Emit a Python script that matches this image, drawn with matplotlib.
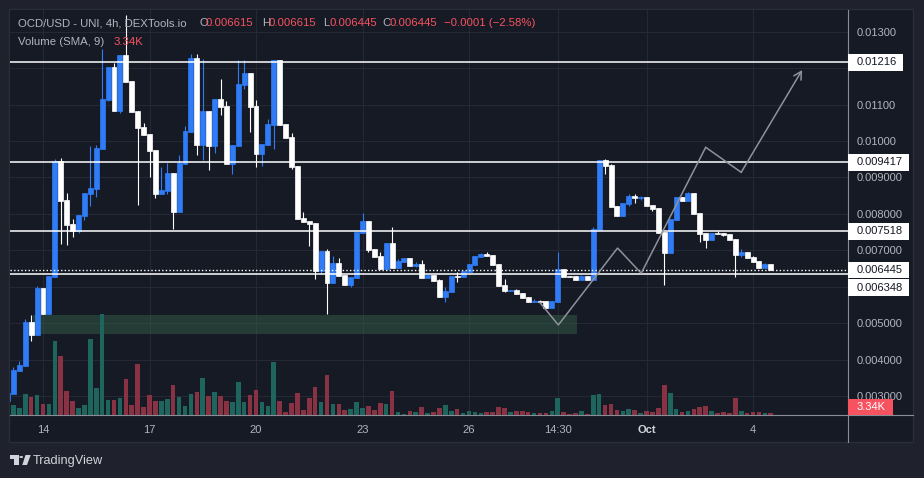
import numpy as np
import matplotlib
matplotlib.use('Agg')
import matplotlib.pyplot as plt
from matplotlib.patches import Rectangle, Polygon, Circle
from matplotlib.lines import Line2D

plt.rcParams['font.family'] = ['Liberation Sans', 'DejaVu Sans']

W, H = 924, 478

# ---------------- data (4h candles, index 0 = Sep 14 00:00) ----------------
start_index = -6
opens = [0.002863, 0.003055, 0.003686, 0.003823, 0.005039, 0.004674,
         0.005964, 0.005251, 0.006266, 0.009460, 0.008380, 0.007721, 0.007529, 0.007941, 0.008545, 0.008682,
         0.009780, 0.011125, 0.012031, 0.010823, 0.012360, 0.011647, 0.010823, 0.010384, 0.010192, 0.009752,
         0.008545, 0.008627, 0.009121, 0.008051, 0.009368, 0.010247, 0.012278, 0.009890, 0.010823, 0.009862,
         0.011152, 0.010960, 0.009368, 0.009862, 0.011537, 0.011866, 0.010960, 0.009643, 0.009890, 0.010439,
         0.012223, 0.010466, 0.010109, 0.009313, 0.007886, 0.007804, 0.007749, 0.006431, 0.006980, 0.006102,
         0.006651, 0.006321, 0.006047, 0.006247, 0.007474, 0.007804, 0.007035, 0.006843, 0.006486, 0.007200,
         0.006513, 0.006678, 0.006788, 0.006568, 0.006623, 0.006239, 0.006321, 0.006184, 0.005717, 0.005855,
         0.006294, 0.006266, 0.006404, 0.006596, 0.006824, 0.006898, 0.006870, 0.006623, 0.006055, 0.005874,
         0.005918, 0.005835, 0.005726, 0.005588, 0.005616, 0.005599, 0.005424, 0.005588, 0.006486, 0.006302,
         0.006302, 0.006192, 0.006302, 0.006192, 0.007565, 0.009478, 0.009341, 0.008215, 0.007941, 0.008270,
         0.008490, 0.008435, 0.008462, 0.008243, 0.008160, 0.007502, 0.006925, 0.007831, 0.008462, 0.008353,
         0.008572, 0.008023, 0.007474, 0.007282, 0.007474, 0.007474, 0.007447, 0.007309, 0.006870, 0.006953,
         0.006815, 0.006706, 0.006513, 0.006615]
highs = [0.003082, 0.003796, 0.003960, 0.005114, 0.005223, 0.006019,
         0.005964, 0.006294, 0.009497, 0.009525, 0.008572, 0.007858, 0.007968, 0.008572, 0.009862, 0.009890,
         0.012525, 0.012031, 0.012141, 0.012360, 0.013458, 0.011647, 0.010823, 0.010494, 0.010192, 0.009752,
         0.009286, 0.009396, 0.009121, 0.009615, 0.010411, 0.012388, 0.012388, 0.012250, 0.010823, 0.011152,
         0.011701, 0.011098, 0.009890, 0.012223, 0.012223, 0.011866, 0.011125, 0.009917, 0.010603, 0.012223,
         0.012223, 0.010466, 0.010219, 0.009313, 0.008051, 0.007804, 0.007749, 0.006980, 0.007035, 0.006843,
         0.006788, 0.006321, 0.006266, 0.007502, 0.008023, 0.007804, 0.007035, 0.006953, 0.007200, 0.007639,
         0.006760, 0.006788, 0.006788, 0.006678, 0.006733, 0.006321, 0.006321, 0.006220, 0.005992, 0.006294,
         0.006404, 0.006431, 0.006623, 0.006843, 0.006925, 0.006953, 0.006870, 0.006623, 0.006220, 0.005918,
         0.005945, 0.005835, 0.005726, 0.005671, 0.005643, 0.005599, 0.005599, 0.006953, 0.006486, 0.006302,
         0.006302, 0.006329, 0.006302, 0.007639, 0.009478, 0.009505, 0.009368, 0.008215, 0.008298, 0.008545,
         0.008545, 0.008490, 0.008462, 0.008243, 0.008160, 0.007502, 0.007858, 0.008462, 0.008462, 0.008600,
         0.008572, 0.008023, 0.007474, 0.007474, 0.007529, 0.007474, 0.007447, 0.007309, 0.007035, 0.006953,
         0.006843, 0.006706, 0.006651, 0.006615]
lows = [0.002863, 0.003055, 0.003686, 0.003823, 0.004518, 0.004674,
        0.005251, 0.005251, 0.006266, 0.007180, 0.007153, 0.007373, 0.007474, 0.007831, 0.008215, 0.008462,
        0.009780, 0.011098, 0.010823, 0.010776, 0.011619, 0.010796, 0.008251, 0.010164, 0.009019, 0.008435,
        0.008545, 0.008553, 0.007592, 0.008051, 0.009368, 0.010247, 0.009615, 0.009478, 0.009203, 0.009670,
        0.010713, 0.009368, 0.009094, 0.009862, 0.011427, 0.010247, 0.009286, 0.009313, 0.009890, 0.009780,
        0.010439, 0.010082, 0.009231, 0.007858, 0.007776, 0.007117, 0.006211, 0.006349, 0.005259, 0.006102,
        0.006302, 0.006047, 0.005999, 0.006247, 0.007474, 0.006953, 0.006815, 0.006486, 0.006486, 0.006513,
        0.006513, 0.006678, 0.006568, 0.006541, 0.006247, 0.006239, 0.006157, 0.005717, 0.005588, 0.005855,
        0.006129, 0.006266, 0.006404, 0.006596, 0.006824, 0.006843, 0.006596, 0.006027, 0.005863, 0.005874,
        0.005808, 0.005698, 0.005588, 0.005588, 0.005561, 0.005424, 0.005424, 0.005588, 0.006274, 0.006274,
        0.006192, 0.006192, 0.006192, 0.006192, 0.007565, 0.009102, 0.008188, 0.007941, 0.007941, 0.008215,
        0.008298, 0.008380, 0.008215, 0.008078, 0.007474, 0.006047, 0.006925, 0.007831, 0.008353, 0.008353,
        0.007996, 0.007227, 0.007062, 0.007282, 0.007447, 0.007392, 0.007282, 0.006266, 0.006815, 0.006788,
        0.006678, 0.006513, 0.006513, 0.006445]
closes = [0.003082, 0.003713, 0.003851, 0.005039, 0.004674, 0.005964,
          0.005251, 0.006294, 0.009460, 0.008353, 0.007694, 0.007529, 0.007968, 0.008572, 0.008709, 0.009807,
          0.011152, 0.012031, 0.010823, 0.012360, 0.011619, 0.010796, 0.010356, 0.010164, 0.009725, 0.008545,
          0.008654, 0.009121, 0.008051, 0.009396, 0.010274, 0.012278, 0.009890, 0.010823, 0.009862, 0.011152,
          0.010933, 0.009368, 0.009890, 0.011564, 0.011866, 0.010933, 0.009643, 0.009917, 0.010466, 0.012223,
          0.010439, 0.010082, 0.009286, 0.007858, 0.007776, 0.007721, 0.006431, 0.006980, 0.006102, 0.006651,
          0.006302, 0.006047, 0.006266, 0.007502, 0.007804, 0.007007, 0.006815, 0.006486, 0.007200, 0.006513,
          0.006706, 0.006788, 0.006568, 0.006623, 0.006247, 0.006321, 0.006157, 0.005717, 0.005882, 0.006294,
          0.006280, 0.006431, 0.006623, 0.006843, 0.006898, 0.006843, 0.006596, 0.006027, 0.005890, 0.005918,
          0.005808, 0.005698, 0.005588, 0.005616, 0.005588, 0.005424, 0.005599, 0.006486, 0.006274, 0.006274,
          0.006192, 0.006302, 0.006192, 0.007584, 0.009478, 0.009321, 0.008188, 0.007941, 0.008298, 0.008490,
          0.008435, 0.008462, 0.008215, 0.008133, 0.007474, 0.006925, 0.007858, 0.008462, 0.008353, 0.008572,
          0.007996, 0.007447, 0.007282, 0.007474, 0.007447, 0.007419, 0.007282, 0.006870, 0.006953, 0.006788,
          0.006678, 0.006513, 0.006615, 0.006445]
volumes_k = [7.3, 14.5, 10.2, 30.5, 26.1, 29.0,
             16.0, 16.0, 107.3, 85.6, 34.8, 20.3, 10.2, 14.5, 110.2, 39.2,
             146.5, 21.8, 21.8, 24.7, 52.2, 14.5, 74.0, 11.6, 29.0, 20.3,
             20.3, 23.2, 43.5, 26.1, 13.1, 30.5, 33.4, 53.7, 27.6, 33.4,
             27.6, 20.3, 18.9, 47.9, 18.9, 29.0, 36.3, 18.9, 13.1, 76.9,
             20.3, 4.4, 17.4, 31.9, 7.3, 24.7, 40.6, 18.9, 58.0, 16.0,
             16.0, 7.3, 8.7, 18.9, 10.2, 13.1, 7.3, 17.4, 16.0, 34.8,
             4.4, 1.9, 5.8, 4.4, 11.6, 3.3, 4.4, 10.2, 14.5, 5.8,
             8.7, 3.3, 5.8, 4.4, 3.3, 4.4, 4.4, 11.6, 10.2, 4.4,
             5.8, 5.8, 4.4, 3.3, 3.3, 3.3, 5.8, 24.7, 4.4, 1.9,
             3.3, 5.8, 1.9, 29.0, 30.5, 14.5, 16.0, 7.3, 5.8, 8.7,
             7.3, 3.3, 5.8, 4.4, 10.2, 43.5, 31.9, 8.7, 4.4, 5.8,
             8.7, 11.6, 13.1, 5.8, 3.3, 4.4, 3.3, 24.7, 5.8, 3.3,
             4.4, 4.4, 3.3, 3.34]

date_tick_pos = [0, 18, 36, 54, 72, 87, 102, 120]
date_tick_labels = ['14', '17', '20', '23', '26', '14:30', 'Oct', '4']
price_ticks = [0.003, 0.004, 0.005, 0.006, 0.007, 0.008, 0.009, 0.010, 0.011, 0.012, 0.013]
# 0.01200 and 0.006000 sit behind the level boxes in the reference
price_tick_labels = ['0.003000', '0.004000', '0.005000', '', '0.007000', '0.008000',
                     '0.009000', '0.01000', '0.01100', '', '0.01300']

level_prices = [0.01216, 0.009417, 0.007518, 0.006348]
level_labels = ['0.01216', '0.009417', '0.007518', '0.006348']
last_price = 0.006445
last_price_label = '0.006445'
last_volume_label = '3.34K'

zone_start, zone_end = -1.7, 90.2
zone_low, zone_high = 0.004702, 0.005223

zig_idx = [84, 87.1, 97.1, 101.1, 112, 118, 128.3]
zig_price = [0.005561, 0.004949, 0.007062, 0.006368, 0.009827, 0.009140, 0.011948]

# ---------------- styling ----------------
OUTER_BG = '#1f222c'
PANEL_BG = '#161a25'
GRID = '#252935'
AXIS_TXT = '#b2b5be'
BLUE = '#2f7cf6'
WHITE = '#ffffff'
VOL_UP = '#1e655e'
VOL_DN = '#893243'
RED = '#f7525f'

fig = plt.figure(figsize=(W / 100, H / 100), dpi=100, facecolor=OUTER_BG)


def px_rect(x0, y0, x1, y1, **kw):
    r = Rectangle((x0 / W, 1 - y1 / H), (x1 - x0) / W, (y1 - y0) / H,
                  transform=fig.transFigure, **kw)
    fig.patches.append(r)
    return r


def px_text(x, y, s, **kw):
    return fig.text(x / W, 1 - y / H, s, **kw)


def px_line(xs, ys, **kw):
    fig.add_artist(Line2D([x / W for x in xs], [1 - y / H for y in ys],
                          transform=fig.transFigure, **kw))


# chart frame
px_rect(9, 9, 913, 442, facecolor=PANEL_BG, edgecolor='#2a2e39', lw=1.0, zorder=-10)

pos = [10 / W, 1 - 415 / H, 838 / W, 405 / H]
XLIM = (-5.577, 136.05)
YLIM = (0.002478, 0.013596)

axp = fig.add_axes(pos, facecolor=PANEL_BG)
axv = fig.add_axes(pos, facecolor='none')
axc = fig.add_axes(pos, facecolor='none')
axp.set_zorder(1)
axv.set_zorder(2)
axc.set_zorder(3)

for a in (axp, axc):
    a.set_xlim(*XLIM)
    a.set_ylim(*YLIM)
axv.set_xlim(*XLIM)
axv.set_ylim(0, 587)

# base axes: grid, ticks
axp.set_xticks(date_tick_pos)
axp.set_xticklabels(date_tick_labels)
axp.set_yticks(price_ticks)
axp.set_yticklabels(price_tick_labels)
axp.yaxis.tick_right()
axp.tick_params(axis='x', length=0, pad=7, labelsize=8, labelcolor=AXIS_TXT)
axp.tick_params(axis='y', length=0, pad=6.5, labelsize=8, labelcolor=AXIS_TXT)
for lab in axp.get_xticklabels():
    if lab.get_text() == 'Oct':
        lab.set_fontweight('bold')
        lab.set_color('#d1d4dc')
axp.grid(True, color=GRID, lw=0.8)
axp.set_axisbelow(True)
for s in axp.spines.values():
    s.set_visible(False)

# support zone
axp.add_patch(Rectangle((zone_start, zone_low), zone_end - zone_start, zone_high - zone_low,
                        facecolor='#36664a', alpha=0.45, lw=0, zorder=2))

x = np.arange(start_index, start_index + len(opens))
o = np.array(opens)
h = np.array(highs)
l = np.array(lows)
c = np.array(closes)
up = c >= o

# volume
axv.bar(x, volumes_k, width=0.78, color=np.where(up, VOL_UP, VOL_DN), lw=0)
axv.axis('off')

# candles
cols = np.where(up, BLUE, WHITE)
axc.vlines(x, l, h, colors=cols, lw=0.8, zorder=3)
axc.bar(x, np.abs(c - o), bottom=np.minimum(o, c), width=0.84, color=cols,
        edgecolor=cols, linewidth=0.5, zorder=4)

# horizontal levels
for p in level_prices:
    axc.axhline(p, color='white', lw=1.1, zorder=5)
axc.axhline(last_price, color='white', lw=1.0, ls=(0, (1, 1.6)), zorder=5)

# projection zigzag with arrow
ZIG = '#8f929b'
axc.plot(zig_idx[:-1], zig_price[:-1], color=ZIG, lw=1.1, zorder=6, solid_joinstyle='miter')
axc.annotate('', xy=(zig_idx[-1], zig_price[-1]), xytext=(zig_idx[-2], zig_price[-2]),
             arrowprops=dict(arrowstyle='->,head_length=0.55,head_width=0.3', color=ZIG, lw=1.1,
                             shrinkA=0, shrinkB=0), zorder=6)
axc.axis('off')

# separators
px_line([848, 848], [10, 442], color='#8a8d96', lw=0.8, zorder=5)
px_line([10, 913], [415, 415], color='#8a8d96', lw=0.8, zorder=5)


def price_py(p):
    return H - axp.transData.transform((0, p))[1]


# right price boxes
shifts = [0, 0, 0, 13.7]
for p, lab, sh in zip(level_prices, level_labels, shifts):
    yc = price_py(p) + sh
    wbox = 55 if len(lab) <= 7 else 61
    px_rect(848, yc - 8.3, 848 + wbox, yc + 8.3, facecolor='white', edgecolor='none', zorder=6)
    px_text(857, yc, lab, fontsize=8, color='#131722', va='center', ha='left', zorder=7)
yc = price_py(last_price)
px_rect(848, yc - 8.0, 909, yc + 8.0, facecolor='white', edgecolor='none', zorder=6)
px_text(857, yc, last_price_label, fontsize=8, color='#131722', va='center', ha='left', zorder=7)

# volume label
px_rect(848, 399, 893, 415, facecolor=RED, edgecolor='none', zorder=6)
px_text(857, 407, last_volume_label, fontsize=8, color='white', va='center', ha='left', zorder=7)

# legend
FS = 8.2
px_text(18.4, 23, 'OCD/USD - UNI, 4h, DEXTools.io', fontsize=FS, color=AXIS_TXT, va='center')
legend_parts = [(199, 'O', AXIS_TXT), (206, '0.006615', RED),
                (261.8, 'H', AXIS_TXT), (268.7, '0.006615', RED),
                (323.4, 'L', AXIS_TXT), (330, '0.006445', RED),
                (382.7, 'C', AXIS_TXT), (389.6, '0.006445', RED),
                (444, '\u22120.0001 (\u22122.58%)', RED)]
for xx, s, col in legend_parts:
    px_text(xx, 23, s, fontsize=FS, color=col, va='center')
px_text(18.4, 42, 'Volume (SMA, 9)', fontsize=FS, color=AXIS_TXT, va='center')
px_text(114, 42, '3.34K', fontsize=FS, color=RED, va='center')

# TradingView logo + wordmark
LOGO = '#d1d4dc'
fig.patches.append(Polygon([(10 / W, 1 - 455 / H), (19 / W, 1 - 455 / H), (19 / W, 1 - 465 / H),
                            (14.3 / W, 1 - 465 / H), (14.3 / W, 1 - 459 / H), (10 / W, 1 - 459 / H)],
                           closed=True, transform=fig.transFigure, facecolor=LOGO, edgecolor='none'))
fig.patches.append(Circle((21.2 / W, 1 - 457 / H), 1.9 / W, transform=fig.transFigure,
                          facecolor=LOGO, edgecolor='none'))
fig.patches.append(Polygon([(25.5 / W, 1 - 455 / H), (30.7 / W, 1 - 455 / H), (27.0 / W, 1 - 465 / H),
                            (22.3 / W, 1 - 465 / H)],
                           closed=True, transform=fig.transFigure, facecolor=LOGO, edgecolor='none'))
px_text(33, 461, 'TradingView', fontsize=9.2, color=LOGO, va='center')

fig.savefig('out.png', dpi=100, facecolor=OUTER_BG)
